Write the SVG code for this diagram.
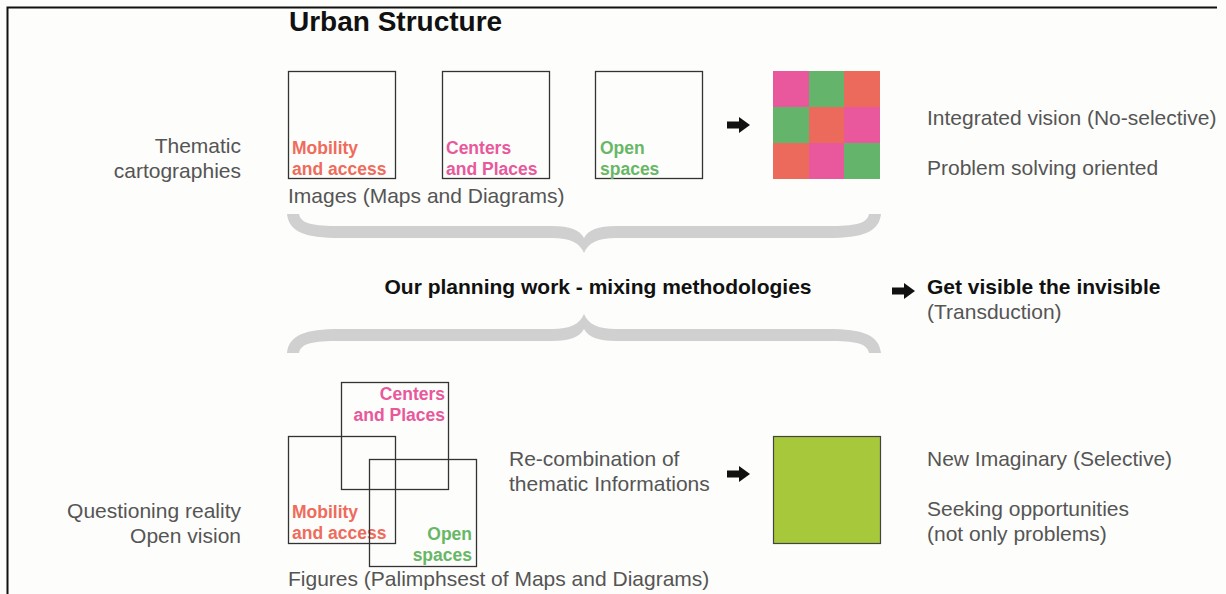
<svg xmlns="http://www.w3.org/2000/svg" width="1226" height="594" viewBox="0 0 1226 594">
<style>
text{font-family:"Liberation Sans",Arial,sans-serif}
.t{font-size:21px;fill:#555}
.b{font-size:21px;font-weight:bold;fill:#111}
.lab{font-size:17.5px;font-weight:bold}
.mob{fill:#ef6b5b}
.cen{fill:#e8589b}
.opn{fill:#67b766}
.box{fill:none;stroke:#333;stroke-width:1.3}
.brace{fill:#d0d0d0}
.arr{fill:#111}
</style>
<defs>
<path id="arrow" d="M0,-3.5 L12,-3.5 L12,-8 L23,0 L12,8 L12,3.5 L0,3.5 Z"/>
</defs>
<rect x="0" y="0" width="1226" height="594" fill="#fdfdfb"/>
<path d="M7.5,594 L7.5,7.5 L1217,7.5" fill="none" stroke="#111" stroke-width="2"/>
<text x="289" y="31" style="font-size:28px;font-weight:bold;fill:#111">Urban Structure</text>

<g id="label-thematic">
<text class="t" x="241" y="153" text-anchor="end">Thematic</text>
<text class="t" x="241" y="178" text-anchor="end">cartographies</text>
</g>
<g id="box-mobility">
<rect class="box" x="288.5" y="71.5" width="107" height="107"/>
<text class="lab mob" x="292" y="154">Mobility</text>
<text class="lab mob" x="292" y="175">and access</text>
</g>
<g id="box-centers">
<rect class="box" x="442.5" y="71.5" width="107" height="107"/>
<text class="lab cen" x="446" y="154">Centers</text>
<text class="lab cen" x="446" y="175">and Places</text>
</g>
<g id="box-open">
<rect class="box" x="595.5" y="71.5" width="107" height="107"/>
<text class="lab opn" x="600" y="154">Open</text>
<text class="lab opn" x="600" y="175">spaces</text>
</g>
<text class="t" x="288" y="203">Images (Maps and Diagrams)</text>
<g id="mosaic">
<rect x="773" y="71" width="36" height="36" fill="#e9579c"/>
<rect x="809" y="71" width="35" height="36" fill="#64b46b"/>
<rect x="844" y="71" width="36" height="36" fill="#ec6a5b"/>
<rect x="773" y="107" width="36" height="36" fill="#64b46b"/>
<rect x="809" y="107" width="35" height="36" fill="#ec6a5b"/>
<rect x="844" y="107" width="36" height="36" fill="#e9579c"/>
<rect x="773" y="143" width="36" height="36" fill="#ec6a5b"/>
<rect x="809" y="143" width="35" height="36" fill="#e9579c"/>
<rect x="844" y="143" width="36" height="36" fill="#64b46b"/>
</g>
<g id="label-integrated">
<text class="t" x="927" y="125">Integrated vision (No-selective)</text>
<text class="t" x="927" y="175">Problem solving oriented</text>
</g>

<g id="braces">
<path class="brace" d="M287,214 C289,232 305,238 340,238 L552,238 C570,238 580,243 584,253 C588,243 598,238 616,238 L828,238 C863,238 879,232 881,214 L869,214 C867,224 855,226 828,226 L616,226 C598,226 588,230 584,238 C580,230 570,226 552,226 L340,226 C313,226 301,224 299,214 Z"/>
<path class="brace" transform="translate(0,567) scale(1,-1)" d="M287,214 C289,232 305,238 340,238 L552,238 C570,238 580,243 584,253 C588,243 598,238 616,238 L828,238 C863,238 879,232 881,214 L869,214 C867,224 855,226 828,226 L616,226 C598,226 588,230 584,238 C580,230 570,226 552,226 L340,226 C313,226 301,224 299,214 Z"/>
</g>

<g id="center-label">
<text class="b" x="598" y="294" text-anchor="middle">Our planning work - mixing methodologies</text>
</g>
<g id="label-visible">
<text class="b" x="927" y="294">Get visible the invisible</text>
<text class="t" x="927" y="319">(Transduction)</text>
</g>

<g id="label-questioning">
<text class="t" x="241" y="518" text-anchor="end">Questioning reality</text>
<text class="t" x="241" y="543" text-anchor="end">Open vision</text>
</g>
<g id="ov-centers">
<rect class="box" x="341.5" y="382.5" width="107" height="107"/>
<text class="lab cen" x="445" y="400" text-anchor="end">Centers</text>
<text class="lab cen" x="445" y="421" text-anchor="end">and Places</text>
</g>
<g id="ov-mobility">
<rect class="box" x="288.5" y="436.5" width="107" height="107"/>
<text class="lab mob" x="292" y="518">Mobility</text>
<text class="lab mob" x="292" y="539">and access</text>
</g>
<g id="ov-open">
<rect class="box" x="369.5" y="459.5" width="107" height="107"/>
<text class="lab opn" x="472" y="540" text-anchor="end">Open</text>
<text class="lab opn" x="472" y="561" text-anchor="end">spaces</text>
</g>
<text class="t" x="288" y="586">Figures (Palimphsest of Maps and Diagrams)</text>
<g id="label-recomb">
<text class="t" x="509" y="466">Re-combination of</text>
<text class="t" x="509" y="491">thematic Informations</text>
</g>
<g id="box-new">
<rect x="773.5" y="436.5" width="107" height="107" fill="#a6c83a" stroke="#444" stroke-width="1.2"/>
</g>
<g id="label-new">
<text class="t" x="927" y="466">New Imaginary (Selective)</text>
<text class="t" x="927" y="516">Seeking opportunities</text>
<text class="t" x="927" y="541">(not only problems)</text>
</g>

<g id="connectors">
<use href="#arrow" class="arr" x="727" y="125"/>
<use href="#arrow" class="arr" x="892" y="291"/>
<use href="#arrow" class="arr" x="727" y="474"/>
</g>
</svg>
